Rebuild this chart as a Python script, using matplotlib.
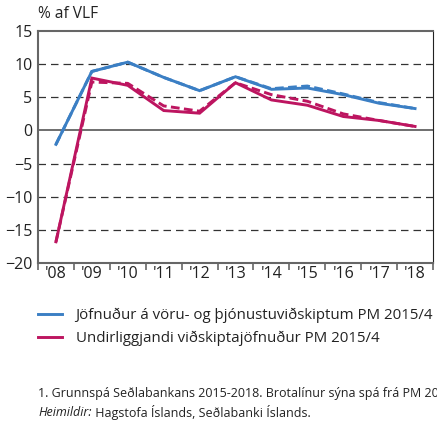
import matplotlib
matplotlib.use("Agg")
import matplotlib.pyplot as plt
from matplotlib.lines import Line2D

plt.rcParams['font.family'] = ['Open Sans', 'DejaVu Sans']

# data
years = ["'08", "'09", "'10", "'11", "'12", "'13", "'14", "'15", "'16", "'17", "'18"]
goods_services = [-2.1, 8.9, 10.3, 8.0, 6.0, 8.1, 6.2, 6.4, 5.4, 4.1, 3.3]
goods_services_prev = [-2.1, 8.9, 10.3, 8.0, 6.0, 8.1, 6.3, 6.7, 5.5, 4.2, 3.3]
underlying = [-16.8, 7.9, 6.8, 3.0, 2.6, 7.2, 4.6, 3.8, 2.1, 1.5, 0.6]
underlying_prev = [-16.8, 7.3, 7.1, 3.7, 2.9, 7.2, 5.4, 4.4, 2.5, 1.5, 0.6]

blue = '#3b7fc4'
red = '#bd1560'
grey = '#666666'
txt = '#222222'

fig = plt.figure(figsize=(4.37, 4.21), dpi=100)
ax = fig.add_axes([38/437, 1 - 263/421, 395/437, 232/421])

x = list(range(len(years)))
# dashed = previous forecast, solid = current
ax.plot(x, goods_services_prev, color=blue, lw=2.1, ls=(0, (3, 1.5)))
ax.plot(x, underlying_prev, color=red, lw=2.1, ls=(0, (3, 1.5)))
ax.plot(x, goods_services, color=blue, lw=2.1, solid_joinstyle='miter')
ax.plot(x, underlying, color=red, lw=2.1, solid_joinstyle='miter')

ax.set_xlim(-0.5, 10.5)
ax.set_ylim(-20, 15)

# gridlines
for v in [10, 5, -5, -10, -15]:
    ax.axhline(v, color='#333333', lw=0.9, ls=(0, (6, 4)), zorder=0)
ax.axhline(0, color='#555555', lw=1.2, zorder=0)

ax.set_yticks(range(-20, 16, 5))
ax.tick_params(axis='y', length=0, labelsize=11.5, pad=4, colors=txt)

# ticks between years, labels at centers
ax.set_xticks([i - 0.5 for i in range(len(years) + 1)])
ax.set_xticklabels([])
ax.set_xticks(x, minor=True)
ax.set_xticklabels(years, minor=True)
ax.tick_params(axis='x', which='major', direction='out', length=5, width=1.2, color=grey)
ax.tick_params(axis='x', which='minor', length=0, labelsize=11.5, pad=2, colors=txt)

for s in ['left', 'bottom', 'top']:
    ax.spines[s].set_color(grey)
    ax.spines[s].set_linewidth(1.5)
ax.spines['right'].set_color(txt)
ax.spines['right'].set_linewidth(0.8)

fig.text(38/437, 1 - 14/421, '% af VLF', fontsize=11.2, va='center', color=txt)

handles = [Line2D([], [], color=blue, lw=2.1), Line2D([], [], color=red, lw=2.1)]
labels = ['Jöfnuður á vöru- og þjónustuviðskiptum PM 2015/4',
          'Undirliggjandi viðskiptajöfnuður PM 2015/4']
fig.legend(handles, labels, loc='upper left', bbox_to_anchor=(32/437, 1 - 302/421),
           frameon=False, fontsize=10.8, handlelength=1.6, handletextpad=0.9,
           labelspacing=0.5, borderaxespad=0, labelcolor=txt)

# footnotes
fig.text(38/437, 1 - 393/421,
         '1. Grunnspá Seðlabankans 2015-2018. Brotalínur sýna spá frá PM 2015/2.',
         fontsize=9, va='center', color=txt)
src = fig.text(38/437, 1 - 412/421, 'Heimildir:', fontsize=9, va='center',
               style='italic', color=txt)
ax.annotate(' Hagstofa Íslands, Seðlabanki Íslands.', xy=(1, 0.5), xycoords=src,
            va='center', ha='left', fontsize=9, color=txt, annotation_clip=False)

fig.savefig('out.png', dpi=100)
